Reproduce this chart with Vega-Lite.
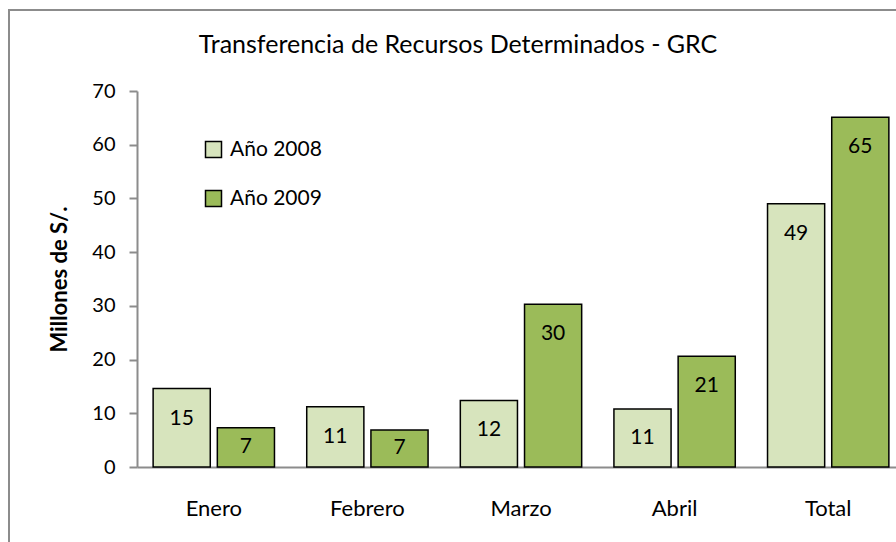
{
  "$schema": "https://vega.github.io/schema/vega-lite/v6.json",
  "autosize": "none",
  "width": 888,
  "height": 533,
  "padding": {"left": 9, "top": 10, "right": -1, "bottom": -1},
  "background": "white",
  "config": {
    "view": {"stroke": "#8c8c8c", "strokeWidth": 2, "fill": "white"},
    "font": "Lato"
  },
  "title": {
    "text": "Transferencia de Recursos Determinados - GRC",
    "fontSize": 25,
    "fontWeight": "normal",
    "font": "Lato",
    "color": "black",
    "anchor": "middle",
    "dx": 5,
    "offset": -48
  },
  "data": {
    "values": [
      {"mes": "Enero", "year": "Año 2008", "v": 14.6},
      {"mes": "Enero", "year": "Año 2009", "v": 7.3},
      {"mes": "Febrero", "year": "Año 2008", "v": 11.2},
      {"mes": "Febrero", "year": "Año 2009", "v": 6.9},
      {"mes": "Marzo", "year": "Año 2008", "v": 12.4},
      {"mes": "Marzo", "year": "Año 2009", "v": 30.3},
      {"mes": "Abril", "year": "Año 2008", "v": 10.8},
      {"mes": "Abril", "year": "Año 2009", "v": 20.6},
      {"mes": "Total", "year": "Año 2008", "v": 49.0},
      {"mes": "Total", "year": "Año 2009", "v": 65.1}
    ]
  },
  "encoding": {
    "x": {
      "field": "mes",
      "type": "nominal",
      "sort": ["Enero", "Febrero", "Marzo", "Abril", "Total"],
      "scale": {"range": [128, 896], "paddingInner": 0.21, "paddingOuter": 0.105},
      "axis": {
        "title": null,
        "offset": -76,
        "labelAngle": 0,
        "ticks": false,
        "labelPadding": 31,
        "labelFontSize": 22,
        "labelColor": "black",
        "domainColor": "#8c8c8c",
        "domainWidth": 2
      }
    },
    "xOffset": {
      "field": "year",
      "type": "nominal",
      "scale": {"paddingInner": 0.11, "paddingOuter": 0}
    }
  },
  "layer": [
    {
      "mark": {"type": "bar", "stroke": "black", "strokeWidth": 1.5},
      "encoding": {
        "y": {
          "field": "v",
          "type": "quantitative",
          "scale": {"domain": [0, 70], "nice": false, "range": [457, 81]},
          "axis": {
            "title": "Millones de S/.",
            "titleFontSize": 22,
            "titleFontWeight": "bold",
            "titleColor": "black",
            "titlePadding": 20,
            "offset": -128,
            "values": [0, 10, 20, 30, 40, 50, 60, 70],
            "grid": false,
            "tickSize": 8,
            "tickColor": "#8c8c8c",
            "tickWidth": 2,
            "labelPadding": 14,
            "labelFontSize": 20,
            "labelColor": "black",
            "domainColor": "#8c8c8c",
            "domainWidth": 2
          }
        },
        "fill": {
          "field": "year",
          "type": "nominal",
          "scale": {"domain": ["Año 2008", "Año 2009"], "range": ["#D7E4BD", "#9BBB59"]},
          "legend": {
            "title": null,
            "orient": "none",
            "legendX": 194,
            "legendY": 129,
            "padding": 0,
            "symbolType": "square",
            "symbolSize": 256,
            "symbolStrokeColor": "black",
            "symbolStrokeWidth": 1.5,
            "labelFontSize": 21,
            "labelColor": "black",
            "labelOffset": 6,
            "rowPadding": 26
          }
        }
      }
    },
    {
      "transform": [{"calculate": "max(datum.v - 5.6, datum.v / 2)", "as": "ly"}],
      "mark": {"type": "text", "fontSize": 21, "color": "black", "baseline": "middle"},
      "encoding": {
        "y": {"field": "ly", "type": "quantitative"},
        "text": {"field": "v", "type": "quantitative", "format": ".0f"}
      }
    }
  ]
}
